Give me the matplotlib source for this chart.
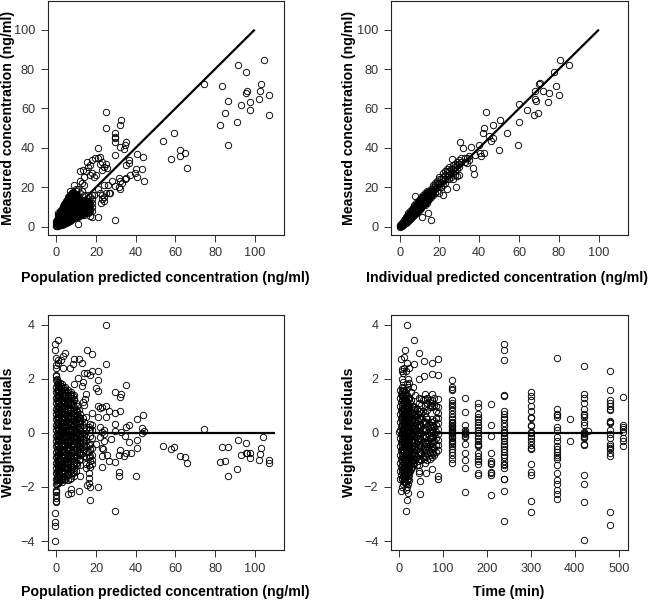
import matplotlib
matplotlib.use('Agg')
import matplotlib.pyplot as plt

plt.rcParams['font.family'] = ['Liberation Sans', 'DejaVu Sans']

# --- panel 1: measured vs population predicted ---
pop_sparse = [(104.5,84.8),(91.4,81.8),(95.4,78.7),(103.4,72.5),(83.5,71.6),(74.4,72.6),(96,69),(95.4,67.9),
    (102.5,68.6),(107,67),(86.7,64),(97.8,63.2),(93.3,61.8),(102.2,64.9),(97.8,59.1),(84.8,57.8),(107,56.6),
    (91,53),(82.6,51.7),(86.7,41.6),(59.2,47.6),(53.5,43.2),(62.4,38.7),(64.6,37.5),(62.4,35.6),(58,34.5),
    (65.9,29.6),(24.8,58.4),(24.8,49.8),(32.4,54),(32.2,51.4),(29.7,47.6),(29.5,45.6),(29.5,44.8),(29.5,43),
    (35,42.7),(34.7,41.5),(31.9,40.5),(34.2,39.4),(21.2,39.7),(29.7,36.1),(40.8,37),(43.8,35.3),(21.2,34.8),
    (22,35.2),(19.2,35),(17.9,33.6),(15.5,32.6),(25,32),(36.8,33.8),(36.8,32.4),(34.9,31.2),(25.3,29.9),
    (22.8,28.7),(11.8,28.4),(13.2,28.7),(15,28),(40.1,29.2),(43,29),(39.6,27),(40.8,25),(37.1,26.2),(44.2,23),
    (34.6,24.3),(31.7,24.8),(27.8,23),(29.5,20.8),(31.7,20.3),(32,18.9),(26.5,16.9),(22.6,11.8),(21.2,4.7),
    (29.7,3.5),(11.1,1.2),(20,26),(21,19),(22,17),(23,14),(23,16),(24,15),(24,21),(25,17),(24,13),(26,21),
    (22,32),(23,33),(24,30),(27,17),(19,16),(19,25),(33,22),(35,24.5),(32,23),(17,31),(16,30),(14,25),(12,23),
    (13,22),(14,21),(9,21),(11,19),(13,18),(18,27),(17,26)]
pop_cols = [0, 0.5, 1, 1.5, 2, 2.5, 3, 3.5, 4, 4.5, 5, 5.5, 6, 6.5, 7, 7.5, 8, 8.5, 9, 9.5, 10, 10.5, 11, 11.5, 12, 12.5,
    13, 13.5, 14, 14.5, 15, 15.5, 16, 16.5, 17, 18]
pop_obs = [[0.3,1,1.8,2.6],
    [0.5,1.5,2.5,3.5],
    [0.5,1.2,2,3,4,5,6,7],
    [0.8,1.6,2.5,3.5,4.5,5.5,6.5],
    [1,2,3,4,5,6,7,8],
    [1.5,2.5,3.5,4.5,5.5,6.5,7.5,8.5],
    [1,2,3,4,5,6,7,8,9],
    [1.5,2.5,3.5,4.5,5.5,6.5,7.5,8.5,9.5,10.5],
    [1.5,2.5,3.5,4.5,5.5,6.5,7.5,8.5,9.5,10.5,11.5],
    [2,3,4,5,6,7,8,9,10,11,12],
    [2,3,4,5,6,7,8,9,10,11,12,13],
    [2.5,3.5,4.5,5.5,6.5,7.5,8.5,9.5,10.5,11.5,12.5,13.5],
    [2.5,4,5,6,7,8,9,10,11,12,13,14,15],
    [3,4.5,5.5,6.5,7.5,8.5,9.5,10.5,11.5,12.5,13.5,14.5,15.5],
    [3,4,5,6,7,8,9,10,11,12,13,14,15,16,18],
    [3.5,4.5,5.5,6.5,7.5,8.5,9.5,10.5,11.5,12.5,13.5,14.5,15.5,16.5],
    [4,5,6,7,8,9,10,11,12,13,14,15,16,17],
    [4.5,5.5,6.5,7.5,8.5,9.5,10.5,11.5,12.5,13.5,14.5,15.5,16.5,17.5],
    [4.5,6,7,8,9,10,11,12,13,14,15,16,17],
    [5,6.5,7.5,8.5,9.5,10.5,11.5,12.5,13.5,14.5,15.5,16.5],
    [5,6,7,8,9,10,11,12,13,14,15,16,18,19],
    [5.5,6.5,7.5,8.5,9.5,10.5,11.5,12.5,13.5,14.5,15.5],
    [5,6,7,8,9,10,11,12,13,14,15],
    [5.5,6.5,7.5,8.5,9.5,10.5,11.5,12.5,13.5,14.5],
    [6,7,8,9,10,11,12,13,14,17],
    [6.5,7.5,8.5,9.5,10.5,11.5,12.5,13.5],
    [6,7,8,9,10,11,12,13],
    [6.5,7.5,8.5,9.5,10.5,11.5,12.5,13.5],
    [6,7,8,9,10,11,12,13,16],
    [7.5,8.5,9.5,10.5,11.5,12.5,13.5],
    [7,8,9,10,11,12,13],
    [7.5,8.5,9.5,10.5,11.5,12.5],
    [7,8,9,10,11,12,13,16],
    [7.5,8.5,9.5,10.5,11.5,12.5],
    [5.5,8,10,12,15],
    [5,8,10,12,14,16]]

# --- panel 2: measured vs individual predicted ---
ind_sparse = [(80.6,84.8),(84.9,81.8),(77.7,78.7),(70.4,73),(70.2,72.5),(78.4,71.5),(72,69),(68,68.8),(75.2,68),
    (80,67),(68,64.9),(68.3,64),(74.4,63.2),(60.1,62),(63.8,59.3),(69.2,57.9),(67.3,56.6),(60,53),(43.6,58.4),
    (50.6,53.9),(46.7,51.4),(42.2,50),(41.7,47.6),(54.1,47.6),(45,45.8),(47,44.9),(45.7,43.2),(30.3,42.9),
    (59.3,41.6),(35.7,40.5),(39.9,41.6),(31.7,39.7),(49.7,38.7),(42.4,37.5),(40.4,37.5),(40.9,35.6),(37.7,36.1),
    (26.5,34.1),(37,29.6),(37.4,26.9),(28.1,20.3),(24,18.9),(21.6,16.2),(7.9,15.4),(14.1,7.1),(11.2,4.7),(15.9,3.5)]
ind_cols = [0, 0.5, 1, 1.5, 2, 2.5, 3, 3.5, 4, 4.5, 5, 5.5, 6, 6.5, 7, 7.5, 8, 8.5, 9, 9.5, 10, 10.5, 11, 11.5, 12, 12.5,
    13, 13.5, 14, 14.5, 15, 15.5, 16, 16.5, 17, 18, 19, 20, 21, 22, 23, 24, 25, 26, 27, 28, 29, 30, 31, 33, 34, 35]
ind_obs = [[0,0.5,1],[0.3,0.8,1.3],[0.5,1,1.5,2],[1,1.5,2,2.5],[1.5,2,2.5,3,3.5],[2,2.5,3,3.5,4],[2,3,4,5],[2.5,3.5,4.5,5.5],
    [3,4,5,6,7],[3.5,4.5,5.5,6.5],[4,5,6,7,8],[4.5,5.5,6.5,7.5],[5,6,7,8,9],[5.5,6.5,7.5,8.5,9.5],[6,7,8,9,10,11],
    [6.5,7.5,8.5,9.5,10.5],[7,8,9,10,11,12],[7.5,8.5,9.5,10.5,11.5],[8,9,10,11,12,13],[8.5,9.5,10.5,11.5,12.5],
    [9,10,11,12,13,14],[9.5,10.5,11.5,12.5,13.5],[10,11,12,13,14,15],[10.5,11.5,12.5,13.5,14.5],[11,12,13,14,15,16],
    [11.5,12.5,13.5,14.5,15.5],[11,12,13,14,15,16,17],[12.5,13.5,14.5,15.5,16.5],[12,13,14,15,16,17,18],
    [13.5,14.5,15.5,16.5,17.5],[14,15,16,17,18],[15.5,16.5,17.5],[15,16,17,18,19],[16.5,17.5,18.5],
    [16,18,20,21],[17,19,21,22],
    [18,20,22,23],[17,20,22,24,25],[20,22,24],[21,23,25,27],[22,24,26,28],[24,26,28,29],[24,26,28,30],[25,27,29],
    [24,27,29,31],[26,28,30,32],[25.5,29,31,33],[26,30,32,34],[33,35],[33,35],[32.5,35],[34,36]]

# --- panel 3: weighted residuals vs population predicted ---
res_sparse = [(24.8,3.99),(1,3.43),(-0.5,3.27),(-0.5,3.07),(15.5,3.05),(17.7,2.9),(4.4,2.95),(3.4,2.83),(-0.3,2.78),
    (1,2.68),(2.5,2.68),(8.8,2.73),(11.3,2.73),(12.8,2.59),(8.4,2.53),(24.8,2.53),(6.7,2.4),(3.4,2.4),(0.7,2.6),
    (21.2,2.3),(17.7,2.3),(15.5,2.22),(16.9,2.14),(13.8,2.21),(-0.1,2.15),(11.1,2.02),(21.2,1.94),(13.2,1.9),
    (34.9,1.78),(8.8,1.79),(12.8,1.75),(20,1.67),(21.2,1.56),(29.7,1.53),(32.4,1.44),(32.2,1.31),(14.8,1.43),
    (14.3,1.26),(13.2,1.14),(13.8,1.04),(21.2,1.01),(24.8,1.01),(22.8,0.95),(22,0.93),(26.5,0.81),(31.9,0.81),
    (29.5,0.74),(43.8,0.67),(17.7,0.73),(21.2,0.58),(24.8,0.58),(40.8,0.52),(29.5,0.33),(16.9,0.33),(36.8,0.3),
    (34.9,0.23),(74.4,0.14),(43,0.19),(21.9,0.2),(32.4,0.05),(29.7,0.06),(44.2,0.06),(43,0),(34.6,-0.1),
    (40.8,-0.25),(27.5,-0.22),(91.4,-0.28),(104.2,-0.15),(36.8,-0.35),(95.4,-0.37),(83.5,-0.53),(86.7,-0.51),
    (53.5,-0.47),(59.2,-0.51),(58,-0.59),(40.8,-0.54),(31.9,-0.62),(103.4,-0.57),(22.8,-0.55),(37.8,-0.73),
    (35,-0.75),(31.7,-0.81),(34.2,-0.85),(62.4,-0.86),(64.6,-0.9),(65.9,-1.1),(95.4,-0.74),(96.2,-0.74),
    (97.8,-0.74),(102.5,-0.79),(93.3,-0.83),(97.8,-0.94),(102.2,-1),(107,-1),(107,-1.11),(84.8,-1.04),(82.6,-1.06),
    (26.6,-1.05),(29.7,-1.06),(22.8,-1.27),(91,-1.35),(86.7,-1.59),(40.1,-1.58),(31.7,-1.43),(31.7,-1.58),(21.2,-2),
    (16.9,-2),(15.5,-1.91),(11.3,-2.16),(7.6,-2.07),(7.6,-2.23),(5.9,-2.26),(16.9,-2.48),(29.7,-2.9),(-0.5,-2.96),
    (-0.5,-3.28),(-0.5,-3.44),(-0.5,-4),(22,-0.15),(20,-0.4),(23,-0.85),(24,-0.05),(23,0.05),(24,0.1),(25.5,-0.8),
    (24,-0.3),(23.5,-0.6)]
res_cols = [-0.3, 1, 2, 3, 4.5, 6, 7.5, 9, 10.5, 12, 13.5, 15, 16.5, 18,
    0.3, 0.7, 1.5, 2.5, 3.7, 5.2, 6.8, 8.2, 9.8, 11.2,
    4, 5.6, 7.2, 8.7, 10.2, 11.7, 14, 17]
res_vals = [[-2.55,-2.5,-2.4,-2.3,-2.2,-2.15,-2.1,-1.9,-1.7,-1.5,-1.3,-1.1,-0.9,-0.7,-0.5,-0.3,-0.1,0.1,0.3,0.5,0.7,0.9,1.1,1.3,1.5,1.7,1.95,2.1,2.4,2.5],
    [-1.85,-1.65,-1.45,-1.25,-1.05,-0.85,-0.65,-0.45,-0.25,-0.05,0.15,0.35,0.55,0.75,0.95,1.15,1.35,1.55,1.75,1.9],
    [-1.75,-1.55,-1.35,-1.15,-0.95,-0.75,-0.55,-0.35,-0.15,0.05,0.25,0.45,0.65,0.85,1.05,1.25,1.45,1.65,1.85],
    [-1.8,-1.6,-1.4,-1.2,-1,-0.8,-0.6,-0.4,-0.2,0,0.2,0.4,0.6,0.8,1,1.2,1.4,1.6,1.8],
    [-1.7,-1.5,-1.3,-1.1,-0.9,-0.7,-0.5,-0.3,-0.1,0.1,0.3,0.5,0.7,0.9,1.1,1.3,1.5,1.7],
    [-1.75,-1.45,-1.25,-1.05,-0.85,-0.65,-0.45,-0.25,-0.05,0.15,0.35,0.55,0.75,0.95,1.15,1.35,1.6],
    [-1.65,-1.35,-1.05,-0.75,-0.45,-0.25,-0.05,0.15,0.45,0.75,1.05,1.3,1.5],
    [-1.6,-1.3,-1,-0.7,-0.5,-0.3,-0.1,0.1,0.3,0.6,0.9,1.2,1.4],
    [-1.2,-0.9,-0.7,-0.45,-0.25,0,0.2,0.5,0.7,1],
    [-1.6,-1.2,-0.8,-0.6,-0.35,-0.15,0.1,0.35,0.55],
    [-0.75,-0.6,-0.35,-0.2,0,0.3,0.55],
    [-1.3,-1.15,-0.9,-0.7,-0.5,-0.3,-0.15,0.15,0.6],
    [-1.85,-1.65,-1.5,-1.2,-0.9,-0.7,-0.45,0.1,0.2],
    [-1.15,-1,-0.8,-0.55,-0.2,0.1,0.3],
    [-1.9,-1.75,-1.6,-1.4,-1.2,-1,-0.8,-0.6,-0.4,-0.2,0,0.2,0.4,0.6,0.8,1,1.2,1.4,1.6,1.8,2],
    [-1.75,-1.55,-1.35,-1.15,-0.95,-0.7,-0.5,-0.3,-0.1,0.1,0.3,0.5,0.7,0.9,1.1,1.3,1.5,1.7,1.85],
    [-1.8,-1.6,-1.4,-1.15,-0.95,-0.75,-0.55,-0.3,-0.1,0.1,0.3,0.55,0.75,0.95,1.15,1.35,1.55,1.75],
    [-1.7,-1.45,-1.25,-1.05,-0.85,-0.65,-0.45,-0.25,-0.05,0.1,0.35,0.55,0.75,0.95,1.15,1.3,1.55,1.75],
    [-1.75,-1.5,-1.25,-1,-0.8,-0.6,-0.4,-0.2,0,0.2,0.4,0.6,0.8,1,1.2,1.4,1.6],
    [-1.6,-1.35,-1.15,-0.95,-0.75,-0.55,-0.35,-0.15,0.05,0.25,0.45,0.65,0.85,1.05,1.25,1.5],
    [-1.7,-1.4,-1.15,-0.9,-0.6,-0.35,-0.15,0.05,0.3,0.6,0.9,1.15,1.4],
    [-1.5,-1.2,-0.85,-0.6,-0.4,-0.2,0,0.25,0.5,0.8,1.1,1.35],
    [-1.4,-1.1,-0.85,-0.55,-0.35,-0.1,0.1,0.4,0.65,0.85,1.1],
    [-1,-0.75,-0.5,-0.3,-0.05,0.15,0.4,0.6,0.85],
    [-1.65,-1.4,-1.15,-0.9,-0.7,-0.45,-0.15,0.05,0.25,0.5,0.7,0.9,1.15,1.35,1.65],
    [-1.55,-1.3,-1.1,-0.8,-0.55,-0.3,-0.1,0.1,0.4,0.6,0.85,1.1,1.4],
    [-1.5,-1.25,-0.95,-0.7,-0.5,-0.2,0.05,0.3,0.55,0.85,1.1,1.45],
    [-1.45,-1.15,-0.9,-0.65,-0.4,-0.15,0.15,0.35,0.65,0.95,1.25],
    [-1.1,-0.8,-0.6,-0.4,-0.2,0.05,0.3,0.55,0.8],
    [-0.95,-0.7,-0.5,-0.25,0,0.2,0.45,0.7],
    [-0.85,-0.65,-0.45,-0.25,-0.05,0.2,0.4],
    [-1.25,-1.05,-0.85,-0.6,-0.4,-0.1,0.15]]

# --- panel 4: weighted residuals vs time ---
time_sparse = [(18.3,3.99),(34,3.43),(14.5,3.05),(45,2.95),(5,2.73),(12,2.8),(18,2.6),(35,2.53),(58,2.67),(75,2.6),
    (89,2.73),(24,2.4),(8,2.37),(58,2.1),(75,2.17),(89,2.14),(45,2),(18,-2.48),(15,-2.9),(49,-2.26),(21,-2.23),
    (5,-2.14),(48,-1.77),(88,-1.7),(88,-1.6),(75,-1.33),(62,-1.48),(45,-1.5),(45,-1.42),(0,0.02),(390,0.5),(390,-0.3),
    (431,0.08)]
early_times = [3, 6, 9, 12, 15, 18, 21, 24, 28, 32, 36, 40, 45, 50, 55, 60, 65, 70, 75, 80, 85, 90,
    5, 8, 11, 14, 17, 20, 23, 26, 30, 34, 38, 43, 48, 58, 62, 73, 78]
early_wres = [[-1.7,-1.4,-1.1,-0.8,-0.5,-0.2,0.1,0.4,0.7,1,1.3,1.6],
    [-2,-1.7,-1.4,-1.2,-0.9,-0.6,-0.3,0,0.3,0.6,0.9,1.2,1.4,1.7,2,2.3],
    [-1.9,-1.6,-1.35,-1.1,-0.85,-0.6,-0.35,-0.1,0.15,0.4,0.65,0.9,1.15,1.4,1.65,1.9,2.2],
    [-1.8,-1.7,-1.5,-1.3,-1.1,-0.9,-0.7,-0.5,-0.3,-0.1,0.1,0.3,0.5,0.7,0.9,1.1,1.3,1.5,2.4],
    [-2.1,-1.9,-1.6,-1.4,-1.2,-1,-0.8,-0.6,-0.4,-0.2,0,0.2,0.4,0.6,0.8,1,1.2,1.6,2.3],
    [-2,-1.75,-1.5,-1.3,-1.1,-0.9,-0.7,-0.5,-0.3,-0.1,0.1,0.3,0.5,0.7,0.9,1.1,1.4,1.8],
    [-1.9,-1.6,-1.3,-1,-0.75,-0.5,-0.25,0,0.25,0.5,0.75,1,1.25,1.7,2],
    [-1.55,-1.3,-1.05,-0.8,-0.6,-0.4,-0.2,0,0.2,0.4,0.6,0.8,1,1.3,1.85],
    [-1.35,-1.1,-0.85,-0.6,-0.35,-0.1,0.15,0.4,0.65,0.9,1.2,1.5],
    [-1.1,-0.8,-0.5,-0.25,0,0.25,0.5,0.75,1,1.7],
    [-1,-0.75,-0.5,-0.25,0.05,0.3,0.6,0.9,1.4],
    [-1.2,-0.9,-0.6,-0.3,0,0.3,0.6,0.9],
    [-1.2,-0.95,-0.7,-0.45,-0.2,0.05,0.3,0.55,0.8,1.1,1.3],
    [-1,-0.75,-0.5,-0.25,0,0.25,0.5,0.75,1.05,1.25],
    [-0.9,-0.6,-0.35,-0.1,0.15,0.4,0.8,1.2],
    [-1.1,-0.85,-0.6,-0.35,-0.1,0.15,0.4,0.75,1,1.25,1.45],
    [-1,-0.75,-0.5,-0.25,0,0.25,0.5,0.85,1.1,1.3],
    [-0.95,-0.7,-0.45,-0.2,0.05,0.3,0.95,1.05,1.2],
    [-0.9,-0.7,-0.5,-0.3,-0.1,0.1,0.3,0.5,0.95,1,1.1,1.2,1.45],
    [-0.8,-0.55,-0.3,-0.05,0.2,0.45,1.05,1.3],
    [-0.7,-0.45,-0.2,0.05,0.3,0.55,0.8,1],
    [-0.65,-0.45,-0.25,-0.05,0.15,0.35,0.55,0.75,0.95,1.25],
    [-1.55,-1.25,-0.95,-0.65,-0.35,-0.05,0.25,0.55,0.85,1.15,1.45],
    [-1.65,-1.35,-1.05,-0.75,-0.45,-0.15,0.15,0.45,0.75,1.05,1.35,1.55],
    [-1.7,-1.45,-1.2,-0.95,-0.7,-0.45,-0.2,0.05,0.3,0.55,0.8,1.05,1.3,1.6],
    [-1.8,-1.55,-1.3,-1.05,-0.8,-0.55,-0.3,-0.05,0.2,0.45,0.7,0.95,1.2,1.45],
    [-1.85,-1.6,-1.35,-1.1,-0.85,-0.6,-0.35,-0.1,0.15,0.4,0.65,0.9,1.15,1.4],
    [-1.7,-1.45,-1.2,-0.95,-0.7,-0.45,-0.2,0.05,0.3,0.55,0.8,1.05,1.3],
    [-1.75,-1.45,-1.15,-0.85,-0.55,-0.25,0.05,0.35,0.65,0.95,1.25],
    [-1.4,-1.15,-0.9,-0.65,-0.4,-0.15,0.1,0.35,0.6,0.85,1.1],
    [-1.25,-1,-0.75,-0.5,-0.25,0,0.25,0.5,0.75,1],
    [-1.15,-0.85,-0.6,-0.35,-0.1,0.15,0.4,0.7,0.95],
    [-0.9,-0.65,-0.4,-0.15,0.1,0.35,0.65],
    [-1.05,-0.8,-0.55,-0.3,-0.05,0.2,0.45,0.7],
    [-0.95,-0.7,-0.45,-0.2,0.05,0.3,0.55,0.8],
    [-0.95,-0.75,-0.5,-0.2,0.1,0.45],
    [-0.9,-0.65,-0.4,-0.15,0.1,0.35,0.6],
    [-0.8,-0.6,-0.4,-0.2,0,0.2,0.4],
    [-0.75,-0.55,-0.35,-0.15,0.05,0.25]]
late_times = [120, 150, 180, 210, 240, 300, 360, 420, 480, 510]
late_wres = [[1.96,1.7,1.62,1.58,1.2,1.1,1.05,0.95,0.85,0.7,0.6,0.5,0.4,0.35,0.3,0.25,0.2,0.15,0.1,0.05,0,-0.05,-0.1,-0.15,-0.2,-0.3,-0.35,-0.4,-0.5,-0.6,-0.7,-0.8,-0.95,-1.1],
    [1.3,0.78,0.3,0.1,0.05,0,-0.05,-0.1,-0.15,-0.4,-0.75,-1,-1.3,-2.2],
    [1.1,0.95,0.7,0.6,0.5,0.4,0.3,0.2,0.1,0,-0.1,-0.2,-0.3,-0.4,-0.45,-0.5,-0.75,-0.85,-0.95,-1.05,-1.15,-1.5,-1.55],
    [1.07,0.3,-0.1,-0.75,-1.05,-1.1,-1.15,-1.45,-1.5,-1.55,-2.3],
    [3.28,3.07,2.7,1.42,1.35,0.8,0.7,0.6,0.5,0.35,0.25,0.1,0.05,0,-0.1,-0.2,-0.3,-0.4,-0.5,-0.6,-0.7,-0.8,-0.9,-1.05,-1.15,-1.2,-1.3,-1.7,-1.72,-2.15,-3.25],
    [1.52,1.35,1.2,1,0.8,0.6,0.55,0.3,0.25,0.05,0,-0.1,-0.2,-0.3,-0.45,-0.55,-0.6,-1.15,-1.45,-1.55,-2.5,-2.93],
    [2.78,0.88,0.7,0.65,0.6,0.2,0.1,-0.15,-0.3,-0.5,-0.6,-0.7,-0.8,-0.9,-0.95,-1.2,-1.5,-1.75,-1.9,-2.1,-2.25,-2.45],
    [2.48,1.45,1.3,1.1,0.9,0.7,0.65,0.6,0.4,0.3,0.05,0,-0.05,-0.1,-0.15,-0.2,-0.4,-0.45,-1.55,-1.9,-2.55,-3.97],
    [2.28,1.6,1.2,1.1,1,0.9,0.85,0.45,0.4,0.35,0.1,-0.05,-0.2,-0.4,-0.5,-0.55,-0.6,-0.75,-0.85,-2.93,-3.42],
    [1.32,0.28,0.2,0.15,0.05,-0.2,-0.3,-0.5]]

conc_ticks = [0, 20, 40, 60, 80, 100]
res_ticks = [-4, -2, 0, 2, 4]
time_ticks = [0, 100, 200, 300, 400, 500]
unity_line = [0, 100]
res_line_pop = [0, 110]
res_line_time = [0, 510]
zero_line = [0, 0]


def flatten(sparse, cols, vals):
    xs = [p[0] for p in sparse]
    ys = [p[1] for p in sparse]
    for c, v in zip(cols, vals):
        xs += [c] * len(v)
        ys += v
    return xs, ys


W, H = 650, 600
fig = plt.figure(figsize=(W / 100, H / 100), dpi=100)


def panel(left, right, top, bottom, xs, ys, lx, ly, xlim, ylim, xticks, yticks, xlabel, ylabel, xlab_x, xlab_y, ylab_x):
    ax = fig.add_axes([left / W, 1 - bottom / H, (right - left) / W, (bottom - top) / H])
    ax.plot(xs, ys, 'o', mfc='none', mec='black', ms=4.6, mew=0.65, clip_on=True)
    ax.plot(lx, ly, color='black', lw=1.6, solid_capstyle='butt')
    ax.set_xlim(xlim)
    ax.set_ylim(ylim)
    ax.set_xticks(xticks)
    ax.set_yticks(yticks)
    ax.tick_params(length=5, width=0.7, labelsize=9.2, labelcolor='#333333', pad=4, color='#333333')
    for s in ax.spines.values():
        s.set_linewidth(0.8)
        s.set_color('#222222')
    # labels sit at fixed pixel spots, same as the reference
    fig.text(xlab_x / W, 1 - xlab_y / H, xlabel, ha='center', va='center', fontsize=10.2, fontweight='bold')
    fig.text(ylab_x / W, 1 - (top + bottom) / 2 / H, ylabel, ha='center', va='center', rotation=90,
             fontsize=10.2, fontweight='bold')
    return ax


x1, y1 = flatten(pop_sparse, pop_cols, pop_obs)
x2, y2 = flatten(ind_sparse, ind_cols, ind_obs)
x3, y3 = flatten(res_sparse, res_cols, res_vals)
x4, y4 = flatten(time_sparse, early_times + late_times, early_wres + late_wres)

panel(47.5, 283.5, 0.5, 235, x1, y1, unity_line, unity_line, (-4.5, 114.5), (-4.3, 114.8), conc_ticks, conc_ticks,
      'Population predicted concentration (ng/ml)', 'Measured concentration (ng/ml)', 165, 278, 8)
panel(391, 628, 0.5, 235, x2, y2, unity_line, unity_line, (-4.3, 114.6), (-4.3, 114.8), conc_ticks, conc_ticks,
      'Individual predicted concentration (ng/ml)', 'Measured concentration (ng/ml)', 507, 278, 349)
panel(47.5, 283.5, 315, 550, x3, y3, res_line_pop, zero_line, (-4.5, 114.5), (-4.33, 4.36), conc_ticks, res_ticks,
      'Population predicted concentration (ng/ml)', 'Weighted residuals', 165, 592, 8)
panel(391, 628, 315, 550, x4, y4, res_line_time, zero_line, (-18, 521), (-4.33, 4.36), time_ticks, res_ticks,
      'Time (min)', 'Weighted residuals', 509, 592, 349)

fig.savefig('out.png', dpi=100)
